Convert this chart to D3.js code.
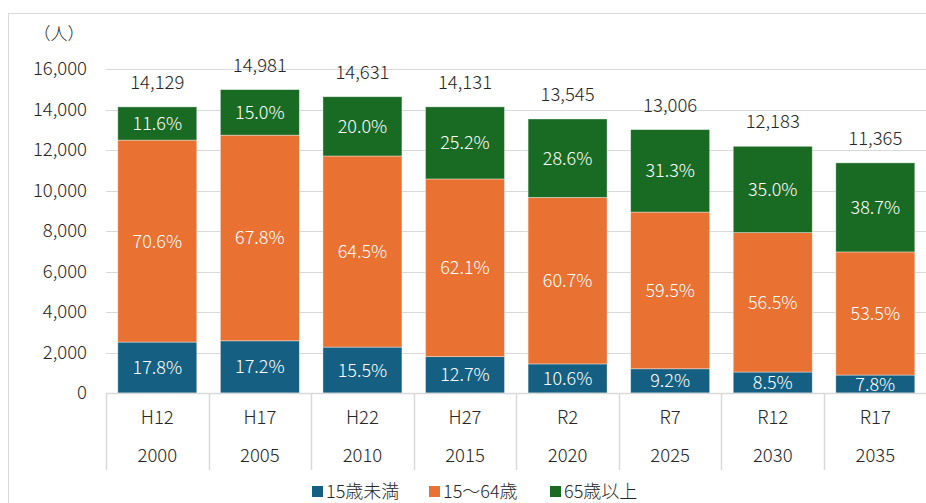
<!DOCTYPE html>
<html><head><meta charset="utf-8">
<script src="https://cdn.jsdelivr.net/npm/d3@7/dist/d3.min.js"></script>
<style>
html,body{margin:0;padding:0;background:#fff;}
svg{display:block;font-family:"Noto Sans CJK JP","Noto Sans",sans-serif;font-weight:300;}
</style></head>
<body>
<svg id="chart" width="926" height="503"></svg>
<script>
// Population by age group, Heisei/Reiwa years
const eraLabels = ["H12","H17","H22","H27","R2","R7","R12","R17"];
const years = ["2000","2005","2010","2015","2020","2025","2030","2035"];
const totals = [14129,14981,14631,14131,13545,13006,12183,11365];
const pctUnder15 = [17.8,17.2,15.5,12.7,10.6,9.2,8.5,7.8];
const pct15to64 = [70.6,67.8,64.5,62.1,60.7,59.5,56.5,53.5];
const pct65plus = [11.6,15.0,20.0,25.2,28.6,31.3,35.0,38.7];
const seriesNames = ["15歳未満","15〜64歳","65歳以上"];
const seriesColors = ["#156082","#E97132","#196B24"];
const yTicks = [0,2000,4000,6000,8000,10000,12000,14000,16000];

const FONT = '"Noto Sans CJK JP","Noto Sans",sans-serif';
const svg = d3.select("#chart");
const W = 926, H = 503;
const plot = {left:106, right:926.6, top:69, bottom:393};

// outer frame
svg.append("rect").attr("x",8.5).attr("y",13.5).attr("width",W+10).attr("height",H+10)
  .attr("fill","none").attr("stroke","#d9d9d9").attr("stroke-width",1);

const x = d3.scaleBand().domain(years).range([plot.left, plot.right]).paddingInner(0.23).paddingOuter(0.115);
const y = d3.scaleLinear().domain([0,16000]).range([plot.bottom, plot.top]);

// gridlines
svg.append("g").selectAll("line").data(yTicks.filter(d=>d>0)).join("line")
  .attr("x1",plot.left).attr("x2",plot.right)
  .attr("y1",d=>Math.round(y(d))+0.5).attr("y2",d=>Math.round(y(d))+0.5)
  .attr("stroke","#d9d9d9").attr("stroke-width",1);

// y axis labels
const yAxis = d3.axisLeft(y).tickValues(yTicks).tickFormat(d3.format(",")).tickSize(0).tickPadding(19);
const yg = svg.append("g").attr("transform",`translate(${plot.left},0)`).call(yAxis)
  .attr("font-family",FONT).attr("font-size",18.5).attr("font-weight",300);
yg.select(".domain").remove();
yg.selectAll("text").attr("fill","#262626");

svg.append("text").attr("x",59).attr("y",40).attr("text-anchor","middle")
  .attr("font-size",17).attr("fill","#262626").text("（人）");

// stacked data
const rows = years.map((yr,i)=>({
  year: yr,
  v0: totals[i]*pctUnder15[i]/100,
  v1: totals[i]*pct15to64[i]/100,
  v2: totals[i]*pct65plus[i]/100,
  p: [pctUnder15[i],pct15to64[i],pct65plus[i]],
  total: totals[i]
}));
const stack = d3.stack().keys(["v0","v1","v2"])(rows);

const layers = svg.append("g").selectAll("g").data(stack).join("g")
  .attr("fill",(d,i)=>seriesColors[i]);
layers.selectAll("rect").data(d=>d).join("rect")
  .attr("x",d=>x(d.data.year)).attr("width",x.bandwidth())
  .attr("y",d=>y(d[1])).attr("height",d=>y(d[0])-y(d[1]))
  .attr("stroke","#ffffff").attr("stroke-opacity",0.5).attr("stroke-width",0.75);

// percentage labels
stack.forEach((layer,k)=>{
  svg.append("g").selectAll("text").data(layer).join("text")
    .attr("x",d=>x(d.data.year)+x.bandwidth()/2)
    .attr("y",d=>(y(d[0])+y(d[1]))/2)
    .attr("dy","0.36em").attr("text-anchor","middle")
    .attr("font-size",18).attr("fill","#ffffff")
    .text(d=>d.data.p[k].toFixed(1)+"%");
});

// totals
svg.append("g").selectAll("text").data(rows).join("text")
  .attr("x",d=>x(d.year)+x.bandwidth()/2)
  .attr("y",d=>y(d.total)-18)
  .attr("text-anchor","middle").attr("font-size",18.5).attr("fill","#262626")
  .text(d=>d3.format(",")(d.total));

// category axis with two rows and separators
const step = x.step();
const cat = d3.scalePoint().domain(years).range([plot.left+step/2, plot.right-step/2]);
const sep = svg.append("g");
d3.range(years.length+1).forEach(i=>{
  const xx = Math.round(plot.left + i*(plot.right-plot.left)/years.length)+0.5;
  sep.append("line").attr("x1",xx).attr("x2",xx).attr("y1",plot.bottom).attr("y2",470)
    .attr("stroke","#d9d9d9").attr("stroke-width",1.5);
});
svg.append("line").attr("x1",plot.left).attr("x2",plot.right)
  .attr("y1",plot.bottom+0.5).attr("y2",plot.bottom+0.5).attr("stroke","#d9d9d9").attr("stroke-width",1.5);

svg.append("g").selectAll("text").data(eraLabels).join("text")
  .attr("x",(d,i)=>cat(years[i])).attr("y",424).attr("text-anchor","middle")
  .attr("font-size",18.5).attr("fill","#262626").text(d=>d);
svg.append("g").selectAll("text").data(years).join("text")
  .attr("x",d=>cat(d)).attr("y",462).attr("text-anchor","middle")
  .attr("font-size",18.5).attr("fill","#262626").text(d=>d);

// legend
const legendX = [312,429,550];
const lg = svg.append("g");
seriesNames.forEach((n,i)=>{
  lg.append("rect").attr("x",legendX[i]).attr("y",486).attr("width",11).attr("height",11)
    .attr("fill",seriesColors[i]);
  lg.append("text").attr("x",legendX[i]+14).attr("y",498).attr("font-size",18)
    .attr("fill","#262626").text(n);
});
</script>
</body></html>
